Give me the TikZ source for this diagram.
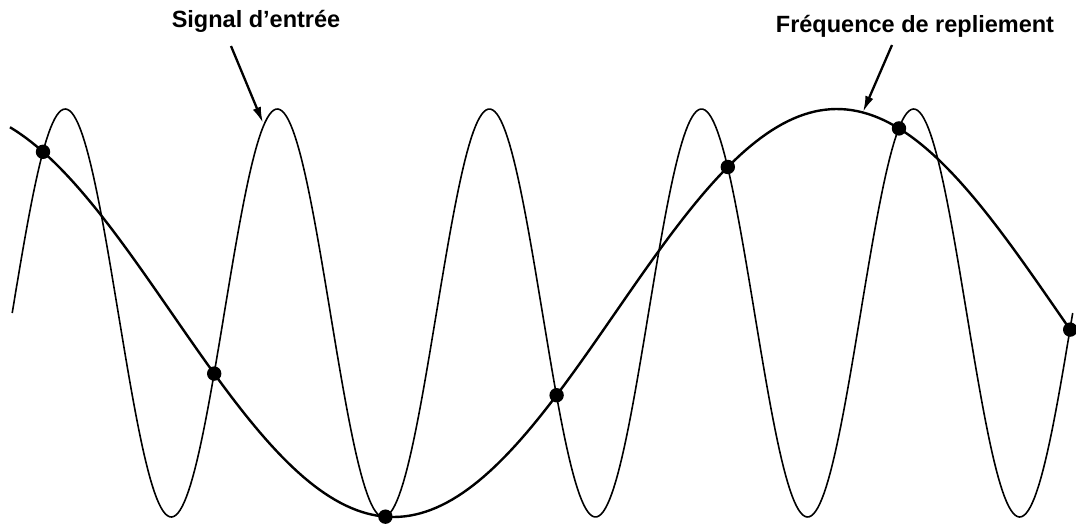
\documentclass[tikz,border=0pt]{standalone}
\usepackage{fontspec}
\setmainfont{Liberation Sans}
\usetikzlibrary{arrows.meta}

\begin{document}
\begin{tikzpicture}[x=1pt,y=-1pt,
  fast/.style={line width=1.6pt},
  slow/.style={line width=2.4pt},
  lbl/.style={font=\fontsize{23.5}{28}\selectfont\bfseries, inner sep=0pt, anchor=base},
  pointer/.style={line width=2.3pt, -{Latex[length=16pt,width=8.5pt]}}]
\useasboundingbox (0,0) rectangle (1076,523);
% signal d'entree et frequence repliee
\draw[fast, domain=12.2:1072.7, samples=500] plot (\x, {313-204*sin((\x-12.2)/212.1*360)});
\draw[slow, domain=10:1070.2, samples=200] plot (\x, {313+204*sin(((\x-43)/887-0.145)*360)});
% echantillons
\foreach \k in {0,...,6}
  \fill ({43+171.2*\k}, {313-204*sin((0.145-0.193*\k)*360)}) circle (7.2pt);
% legendes
\node[lbl] (entree) at (256,27) {Signal d’entrée};
\node[lbl] (repli) at (915,32) {Fréquence de repliement};
\coordinate (entree-from) at (231,46); \coordinate (entree-tip) at (263,123);
\coordinate (repli-from) at (892,45); \coordinate (repli-tip) at (863,112);
\draw[pointer] (entree-from) -- (entree-tip);
\draw[pointer] (repli-from) -- (repli-tip);
\end{tikzpicture}
\end{document}
